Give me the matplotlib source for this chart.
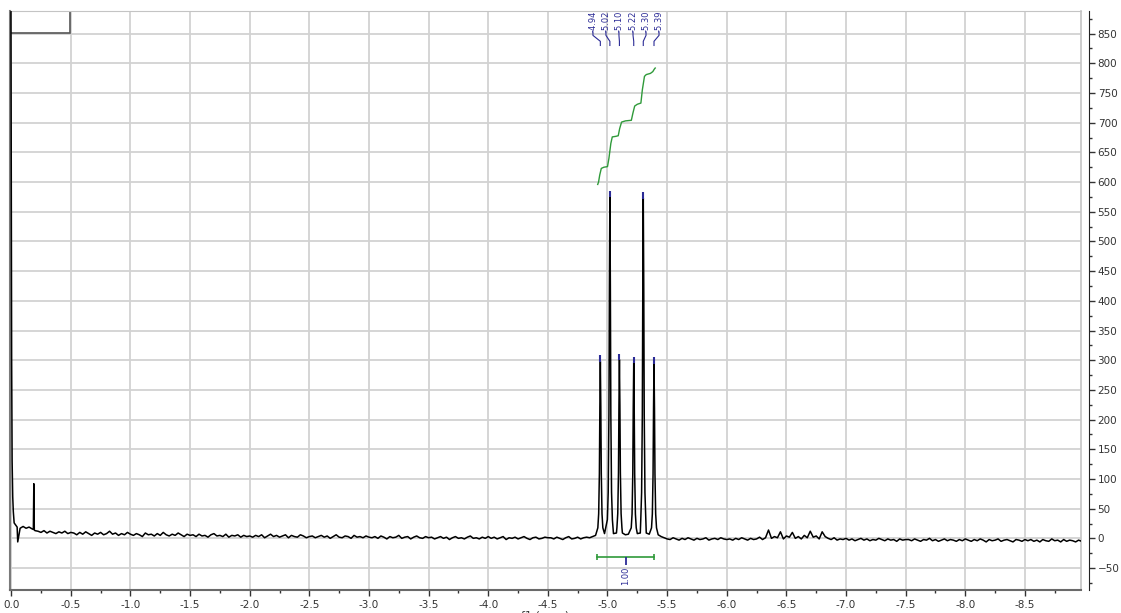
import numpy as np
import matplotlib.pyplot as plt
from matplotlib.patches import Rectangle

# baseline of the spectrum, one value every 0.025 ppm from -0.025 to -8.975
base_rows = [
    [26, 19, 17, 20, 17, 19, 16, 13, 12, 10, 13, 9, 12, 10, 8, 11, 9, 12, 8, 10],
    [9, 6, 10, 7, 11, 8, 5, 9, 7, 10, 6, 8, 12, 7, 9, 5, 8, 6, 10, 7],
    [5, 8, 6, 3, 9, 6, 7, 4, 8, 5, 10, 6, 4, 7, 5, 9, 6, 3, 7, 5],
    [6, 3, 7, 4, 5, 2, 6, 8, 4, 5, 3, 7, 2, 5, 4, 6, 2, 5, 3, 4],
    [2, 5, 3, 6, 1, 4, 7, 3, 5, 2, 4, 6, 1, 5, 3, 2, 6, 4, 1, 3],
    [4, 1, 3, 5, 2, 4, 0, 3, 6, 2, 1, 4, 3, 0, 5, 2, 3, 1, 4, 2],
    [1, 3, 0, 4, 2, -1, 3, 1, 2, 5, 0, 2, 3, -1, 2, 4, 1, 0, 3, 1],
    [2, -1, 1, 3, 0, 2, -2, 1, 3, 0, 1, -1, 2, 4, 0, 1, -1, 2, 0, 3],
    [0, 2, -1, 1, 3, -2, 1, 0, 2, -1, 1, 3, 0, -2, 1, 2, -1, 0, 2, 1],
    [1, -1, 2, 0, -2, 1, 3, -1, 0, 2, -1, 1, 2, 1, 3, 5, 6, 7, 8, 8],
    [8, 8, 9, 9, 9, 6, 7, 8, 8, 8, 9, 9, 9, 7, 6, 6, 6, 3, 1, -1],
    [-2, 1, -1, -3, 0, -2, 1, -1, -3, 0, -2, -1, 1, -3, -1, 0, -2, 1, -1, -2],
    [-1, -3, 0, -2, 1, -1, -3, 0, -2, -1, 2, -2, 1, 14, 0, 3, 1, 11, -1, 4],
    [2, 10, 0, 3, -1, 5, 1, 12, 2, 4, -1, 11, 3, 0, -2, 1, -3, -1, -2, 0],
    [-3, -1, -4, -2, 0, -3, -1, -4, -2, -3, 0, -2, -4, -1, -3, -2, -5, -1, -3, -2],
    [-2, -4, -1, -3, -5, -2, -3, 0, -4, -2, -5, -3, -1, -4, -2, -3, -5, -2, -4, -1],
    [-3, -5, -2, -4, -1, -3, -6, -2, -4, -3, -1, -5, -3, -2, -4, -6, -2, -3, -5, -2],
    [-4, -2, -5, -3, -6, -2, -4, -5, -1, -4, -3, -6, -2, -5, -3, -4, -6, -3, -5],
]
base_int = np.concatenate([np.array(r, dtype=float) for r in base_rows])
base_ppm = -0.025 * np.arange(1, len(base_int) + 1)

# sharp features at the left edge (reference spike and small peak)
left_ppm = [0.01, 0.004, 0.0, -0.004, -0.008, -0.013, -0.018, -0.055, -0.186, -0.19, -0.194]
left_int = [1400, 1100, 700, 300, 130, 70, 45, -6, 15, 92, 14]

# multiplet peaks
peak_ppm = np.array([-4.94, -5.02, -5.10, -5.22, -5.30, -5.39])
peak_height = np.array([295, 572, 298, 293, 570, 292])
peak_labels = ['-4.94', '-5.02', '-5.10', '-5.22', '-5.30', '-5.39']
label_ppm = np.array([-4.878, -4.987, -5.096, -5.214, -5.323, -5.432])
shape_offset = np.array([-0.021, -0.014, -0.008, -0.004, 0.0, 0.004, 0.008, 0.014, 0.021])
shape_frac = np.array([0.05, 0.13, 0.36, 0.74, 1.0, 0.74, 0.36, 0.13, 0.05])

# integral curve
int_ppm = [-4.918, -4.925, -4.935, -4.948, -4.97, -5.0, -5.012, -5.028, -5.04, -5.07,
           -5.09, -5.102, -5.118, -5.15, -5.2, -5.213, -5.228, -5.25, -5.28, -5.292,
           -5.31, -5.325, -5.36, -5.38, -5.392, -5.4]
int_val = [596, 600, 612, 623, 625, 626, 640, 665, 676, 677,
           678, 690, 701, 703, 704, 716, 728, 731, 733, 755,
           778, 781, 783, 786, 790, 792]
int_range = (-4.915, -5.39)
int_text = '1.00'

blue = '#2b2b96'
green = '#2f9a3a'

# assemble spectrum
keep = np.min(np.abs(base_ppm[:, None] - peak_ppm[None, :]), axis=1) > 0.023
pk_x = (peak_ppm[:, None] + shape_offset[None, :]).ravel()
pk_y = (peak_height[:, None] * shape_frac[None, :] + 3).ravel()
ppm = np.concatenate([base_ppm[keep], left_ppm, pk_x])
inten = np.concatenate([base_int[keep], left_int, pk_y])
order = np.argsort(-ppm)
ppm, inten = ppm[order], inten[order]

fig = plt.figure(figsize=(11.21, 6.13), dpi=100)
ax = fig.add_axes([0.0089, 0.0375, 0.9554, 0.9445])

ax.plot(ppm, inten, color='black', lw=1.1, zorder=3)

# peak picking marks, connectors and labels
ax.vlines(peak_ppm, peak_height + 2, peak_height + 13, color=blue, lw=1.5, zorder=4)
for lx, px, lab in zip(label_ppm, peak_ppm, peak_labels):
    ax.plot([lx, lx, px, px], [853, 847, 837, 830], color=blue, lw=0.8)
    ax.text(lx, 853, lab, rotation=90, ha='center', va='bottom',
            fontsize=6, color=blue)

# integral
ax.plot(int_ppm, int_val, color=green, lw=1.0)
ax.plot(int_range, [-31, -31], color=green, lw=1.2)
ax.vlines(int_range, -36, -26, color=green, lw=1.2)
mid = (int_range[0] + int_range[1]) / 2
ax.vlines(mid, -45, -31, color=blue, lw=1.3)
ax.text(mid, -47, int_text, rotation=90, ha='center', va='top', fontsize=6, color=blue)

# small box in the upper-left corner
ax.add_patch(Rectangle((0.01, 851), -0.505, 45, fill=False, edgecolor='#555555', lw=1.2))

ax.set_xlim(0.01, -8.97)
ax.set_ylim(-87, 888)

xt = np.arange(0, -8.6, -0.5)
ax.set_xticks(xt)
ax.set_xticklabels(['{:.1f}'.format(v) for v in xt])
ax.set_xticks(np.arange(-0.25, -9.0, -0.5), minor=True)
ax.set_yticks(np.arange(-50, 851, 50))
ax.set_yticks(np.arange(-75, 876, 50), minor=True)

ax.grid(True, which='major', color='#d2d2d2', lw=1.3)
ax.set_axisbelow(True)

ax.yaxis.tick_right()
ax.spines['right'].set_position(('outward', 6))
ax.spines['right'].set_color('#222222')
ax.spines['top'].set_color('#c4c4c4')
ax.spines['left'].set_color('#7a7a7a')
ax.spines['left'].set_linewidth(1.5)
ax.spines['bottom'].set_color('#6a6a6a')
ax.spines['bottom'].set_linewidth(1.5)
ax.plot([1, 1], [0, 1], transform=ax.transAxes, color='#c4c4c4', lw=1.2, clip_on=False)

ax.tick_params(axis='both', which='major', direction='out', length=4, width=1,
               colors='#333333', labelsize=7.5)
ax.tick_params(axis='both', which='minor', direction='out', length=2.5, width=1,
               colors='#333333')
ax.tick_params(axis='x', pad=3)
ax.tick_params(axis='y', pad=2)

ax.set_xlabel('f1 (ppm)', fontsize=8, labelpad=1, color='#333333')

fig.savefig('out.png', dpi=100)
